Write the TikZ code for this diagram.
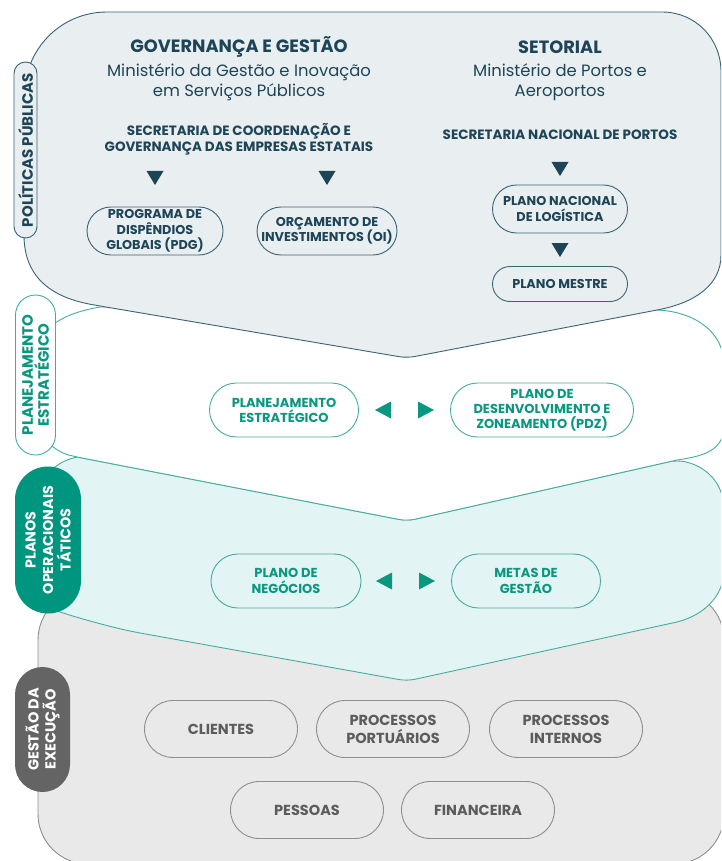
\documentclass[tikz,border=0pt]{standalone}
\usepackage{fontspec}
\setmainfont{Poppins}
\usetikzlibrary{shapes.misc}
\definecolor{navy}{HTML}{1E4457}
\definecolor{navyline}{HTML}{3A6376}
\definecolor{topfill}{HTML}{E9EFF0}
\definecolor{tealc}{HTML}{0A977F}
\definecolor{tealpillc}{HTML}{00957F}
\definecolor{tealline}{HTML}{45AD9F}
\definecolor{tealfill}{HTML}{E3F4F4}
\definecolor{grayfill}{HTML}{E9E9E9}
\definecolor{grayline}{HTML}{8E8E8E}
\definecolor{graytext}{HTML}{5C5C5C}
\definecolor{graypill}{HTML}{646464}
\begin{document}
\begin{tikzpicture}[x=1pt,y=-1pt,
  pillbase/.style={rounded rectangle, inner sep=0pt, align=center, line width=0.9pt},
  navypill/.style={pillbase, draw=navyline, fill=topfill, text=navy, font=\fontsize{12.8}{15.5}\selectfont\bfseries},
  tealpill/.style={pillbase, draw=tealline, fill=white, text=tealc, font=\fontsize{13}{15}\selectfont\bfseries, minimum height=54pt},
  graybox/.style={pillbase, draw=grayline, fill=grayfill, text=graytext, font=\fontsize{14.5}{18}\selectfont\bfseries, minimum width=153pt, minimum height=57pt},
  sidepill/.style={rounded rectangle, rotate=90, inner sep=0pt, align=center, line width=0.9pt},
  head/.style={text=navy, font=\fontsize{17.8}{20}\selectfont\bfseries},
  subhead/.style={text=navy, align=center, font=\fontsize{16.4}{20}\selectfont},
  sechead/.style={text=navy, align=center, font=\fontsize{13.5}{16}\selectfont\bfseries},
  tridown/.pic={\fill[navy] (-8.5,-7) -- (8.5,-7) -- (0,7) -- cycle;},
  trileft/.pic={\fill[tealc] (8,-8.5) -- (8,8.5) -- (-8,0) -- cycle;},
  triright/.pic={\fill[tealc] (-8,-8.5) -- (-8,8.5) -- (8,0) -- cycle;}
]
\useasboundingbox (0,0) rectangle (721,861);
\clip (0,0) rectangle (721,861);

% gray shape
\draw[grayline, fill=grayfill, line width=0.9pt, rounded corners=50pt] (38,590) rectangle (724,864);

% teal shape
\draw[tealline, fill=tealfill, line width=0.9pt]
  (77,457) [rounded corners=8pt] -- (407,521) -- (677,460) [sharp corners]
  .. controls (705,466) and (724,482) .. (724,510) -- (724,570)
  .. controls (724,595) and (705,615) .. (677,622)
  [rounded corners=8pt] -- (407,681) -- (140,633) [sharp corners]
  .. controls (110,627) and (75,617) .. (60,612)
  .. controls (50,608) and (45,600) .. (45,585) -- (45,490)
  .. controls (45,470) and (60,461) .. (77,457) -- cycle;

% white shape
\draw[tealline, fill=white, line width=0.9pt]
  (35,360) .. controls (35,325) and (70,312) .. (100,307) -- (658,310)
  .. controls (695,312) and (724,332) .. (724,365) -- (724,425)
  .. controls (724,450) and (705,456) .. (677,460)
  [rounded corners=8pt] -- (407,521) -- (77,457) [sharp corners]
  .. controls (60,453) and (35,440) .. (35,410) -- cycle;

% top shape
\draw[navyline, fill=topfill, line width=0.9pt]
  (24,97) .. controls (24,50) and (60,12) .. (107,12) -- (662,12)
  .. controls (695,12) and (721,38) .. (721,72) -- (721,255)
  .. controls (721,285) and (695,303) .. (657,310)
  [rounded corners=8pt] -- (407,358) -- (100,306) [sharp corners]
  .. controls (55,298) and (24,280) .. (24,235) -- cycle;

% headings
\node[head] (gov) at (239,47) {GOVERNANÇA E GESTÃO};
\node[subhead] (mgi) at (239,82) {Ministério da Gestão e Inovação\\em Serviços Públicos};
\node[head] (set) at (560,47) {SETORIAL};
\node[subhead] (mpa) at (560,82) {Ministério de Portos e\\Aeroportos};
\node[sechead] (sec1) at (239,139) {SECRETARIA DE COORDENAÇÃO E\\GOVERNANÇA DAS EMPRESAS ESTATAIS};
\node[sechead] (sec2) at (560,135) {SECRETARIA NACIONAL DE PORTOS};

% top pills
\node[navypill, minimum width=136pt, minimum height=48pt] (pdg) at (155,231) {PROGRAMA DE\\DISPÊNDIOS\\GLOBAIS (PDG)};
\node[navypill, minimum width=136pt, minimum height=48pt] (oi) at (327,231) {ORÇAMENTO DE\\INVESTIMENTOS (OI)};
\node[navypill, minimum width=135pt, minimum height=48pt] (pnl) at (560,209) {PLANO NACIONAL\\DE LOGÍSTICA};
\node[navypill, minimum width=135pt, minimum height=35pt] (pm) at (560,284) {PLANO MESTRE};

\pic at (155,178) {tridown};
\pic at (327,178) {tridown};
\pic at (560,169) {tridown};
\pic at (560,250) {tridown};

% planejamento
\node[tealpill, minimum width=149pt] (pe) at (284,410) {PLANEJAMENTO\\ESTRATÉGICO};
\node[tealpill, minimum width=183pt] (pdz) at (542,410) {PLANO DE\\DESENVOLVIMENTO E\\ZONEAMENTO (PDZ)};
\pic at (383,410) {trileft};
\pic at (426,410) {triright};

% operacionais
\node[tealpill, fill=tealfill, minimum width=150pt, font=\fontsize{13}{16.5}\selectfont\bfseries] (pn) at (286,581) {PLANO DE\\NEGÓCIOS};
\node[tealpill, fill=tealfill, minimum width=149pt, font=\fontsize{13}{16.5}\selectfont\bfseries] (mg) at (526,581) {METAS DE\\GESTÃO};
\pic at (384,581) {trileft};
\pic at (427,581) {triright};

% execucao
\node[graybox] (cli) at (221,729) {CLIENTES};
\node[graybox] (ppo) at (393,729) {PROCESSOS\\PORTUÁRIOS};
\node[graybox] (pin) at (566,729) {PROCESSOS\\INTERNOS};
\node[graybox] (pes) at (307,810) {PESSOAS};
\node[graybox] (fin) at (478,810) {FINANCEIRA};

% side labels
\node[sidepill, minimum width=176pt, minimum height=23pt, draw=navyline, fill=topfill, text=navy, font=\fontsize{15}{15}\selectfont\bfseries] (lpp) at (25.5,150) {POLÍTICAS PÚBLICAS};
\node[sidepill, minimum width=160pt, minimum height=40pt, draw=tealline, fill=white, text=tealc, font=\fontsize{15}{16}\selectfont\bfseries] (lpe) at (35.5,375) {PLANEJAMENTO\\ESTRATÉGICO};
\node[sidepill, minimum width=147pt, minimum height=66pt, fill=tealpillc, text=white, font=\fontsize{14.3}{17.5}\selectfont\bfseries] (lpo) at (48,540) {PLANOS\\OPERACIONAIS\\TÁTICOS};
\node[sidepill, minimum width=125pt, minimum height=55pt, fill=graypill, text=white, font=\fontsize{14.5}{17}\selectfont\bfseries] (lge) at (42.5,729.5) {GESTÃO DA\\EXECUÇÃO};
\end{tikzpicture}
\end{document}
